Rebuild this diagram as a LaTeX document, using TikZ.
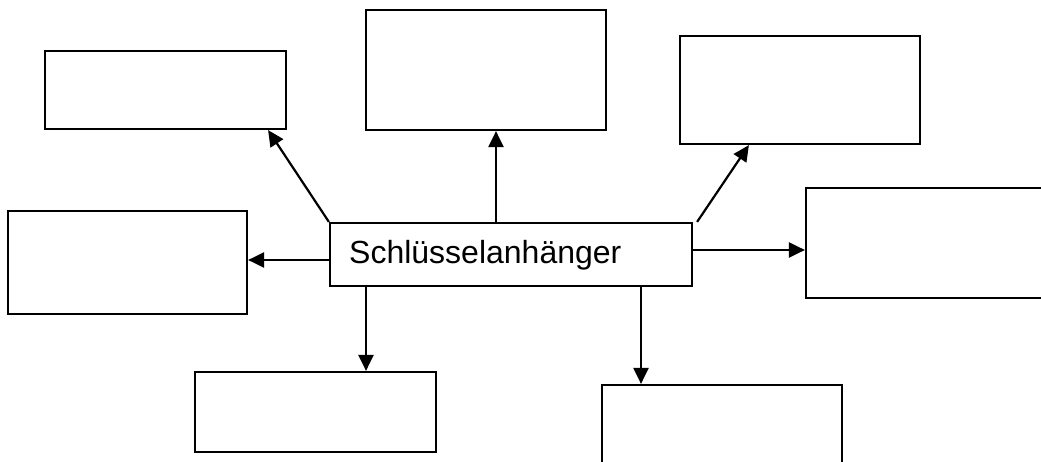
\documentclass[tikz,border=0pt]{standalone}
\usepackage{fontspec}
\setmainfont{Liberation Sans}
\usetikzlibrary{arrows.meta}
\begin{document}
\begin{tikzpicture}[x=1pt,y=-1pt,
  box/.style={draw=black,line width=2.2pt,fill=white,inner sep=0pt,rectangle},
  arr/.style={line width=2.2pt,-{Triangle[length=16pt,width=15pt]}}]
\useasboundingbox (0,0) rectangle (1041,462);
\node[box,minimum width=241pt,minimum height=78pt] (tl) at (165.5,90) {};
\node[box,minimum width=240pt,minimum height=120pt] (tc) at (486,70) {};
\node[box,minimum width=240pt,minimum height=108pt] (tr) at (800,90) {};
\node[box,minimum width=239pt,minimum height=103pt] (l) at (127.5,262.5) {};
\node[box,minimum width=244pt,minimum height=110pt] (r) at (928,243) {};
\node[box,minimum width=241pt,minimum height=80pt] (bl) at (315.5,412) {};
\node[box,minimum width=240pt,minimum height=85pt] (br) at (722,427.5) {};
\node[box,minimum width=362pt,minimum height=63pt] (c) at (511,254.5) {};
\node[anchor=base west,inner sep=0pt,font=\fontsize{32}{38}\selectfont] (t) at (349,264) {Schlüsselanhänger};
\coordinate (a1) at ([xshift=-19pt]tl.south east);
\draw[arr] (c.north west) -- (a1);
\draw[arr] ([xshift=-15pt]c.north) -- ([xshift=10pt]tc.south);
\draw[arr] ([xshift=4pt]c.north east) -- ([xshift=70pt]tr.south west);
\draw[arr] ([yshift=-5.5pt]c.west) -- ([yshift=-5.5pt]c.west -| l.east);
\draw[arr] ([yshift=4.5pt]c.east) -- ([yshift=4.5pt]c.east -| r.west);
\draw[arr] ([xshift=-145pt]c.south) -- ([xshift=-145pt]c.south |- bl.north);
\draw[arr] ([xshift=130pt]c.south) -- ([xshift=130pt]c.south |- br.north);
\end{tikzpicture}
\end{document}
